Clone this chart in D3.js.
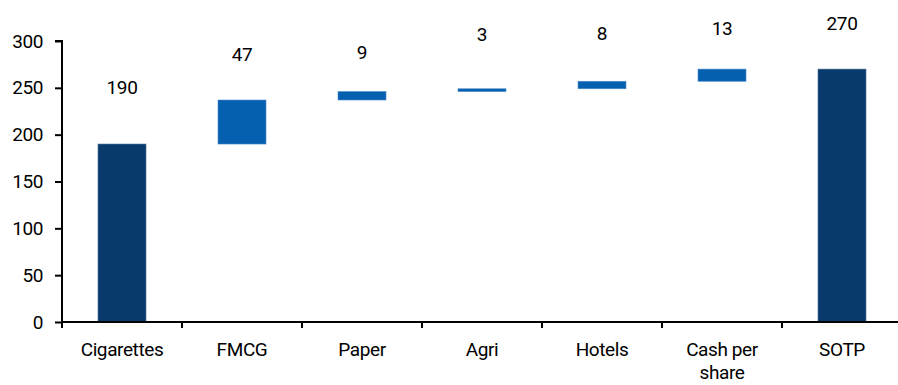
<!DOCTYPE html>
<html>
<head>
<meta charset="utf-8">
<script src="https://cdn.jsdelivr.net/npm/d3@7"></script>
<style>
  body { margin: 0; background: #fff; }
  text { font-family: "Liberation Sans Narrow", "Arial Narrow", Roboto, sans-serif; fill: #000; letter-spacing: -0.4px; }
</style>
</head>
<body>
<div id="chart"></div>
<script>
// waterfall data
var categories = ['Cigarettes', 'FMCG', 'Paper', 'Agri', 'Hotels', 'Cash per share', 'SOTP']
var values = [190, 47, 9, 3, 8, 13, 270]
var isTotal = [true, false, false, false, false, false, true]
// where the value labels sit (in chart units)
var labelPos = [250, 286, 288, 307, 308, 314, 319]
var yTicks = [0, 50, 100, 150, 200, 250, 300]

var W = 898, H = 385
var mLeft = 62, mRight = 902, mTop = 41, mBottom = 322

// running start / end for each bar
var run = 0
var bars = categories.map(function (c, i) {
  var b
  if (isTotal[i]) { b = { c: c, lo: 0, hi: values[i] }; run = values[i] }
  else { b = { c: c, lo: run, hi: run + values[i] }; run += values[i] }
  b.v = values[i]; b.total = isTotal[i]; b.lp = labelPos[i]
  return b
})

var svg = d3.select('#chart').append('svg')
  .attr('width', W)
  .attr('height', H)

var x = d3.scaleBand().domain(categories).range([mLeft, mRight]).paddingInner(0.6).paddingOuter(0.3)
var y = d3.scaleLinear().domain([0, 300]).range([mBottom, mTop])

// bars
svg.selectAll('rect.bar')
  .data(bars)
  .enter().append('rect')
    .attr('class', 'bar')
    .attr('x', d => x(d.c))
    .attr('width', x.bandwidth())
    .attr('y', d => y(d.hi))
    .attr('height', d => y(d.lo) - y(d.hi))
    .attr('fill', d => d.total ? '#083a6b' : '#0660b0')
    .attr('stroke', d => d.total ? '#4a6f96' : '#4f8cc8')
    .attr('stroke-width', 0.6)

// value labels
svg.selectAll('text.val')
  .data(bars)
  .enter().append('text')
    .attr('class', 'val')
    .attr('x', d => x(d.c) + x.bandwidth() / 2)
    .attr('y', d => y(d.lp))
    .attr('dy', '0.35em')
    .attr('text-anchor', 'middle')
    .style('font-size', '19px')
    .text(d => d.v)

// y axis
var yAxis = svg.append('g')
  .attr('transform', 'translate(' + mLeft + ',0)')
  .call(d3.axisLeft(y).tickValues(yTicks).tickSize(7).tickPadding(12))
yAxis.select('.domain').attr('stroke', '#000').attr('stroke-width', 2).attr('d', 'M-7,' + y(300) + 'H0V' + mBottom)
yAxis.selectAll('.tick line').attr('stroke', '#000').attr('stroke-width', 2)
yAxis.selectAll('.tick text').style('font-size', '19px')
yAxis.attr('font-family', null).attr('font-size', null)

// x axis: line and boundary ticks
var step = x.step()
var bounds = d3.range(categories.length + 1).map(i => mLeft + i * step)
svg.append('line')
  .attr('x1', mLeft).attr('x2', W)
  .attr('y1', mBottom).attr('y2', mBottom)
  .attr('stroke', '#000').attr('stroke-width', 2)
svg.selectAll('line.xt')
  .data(bounds)
  .enter().append('line')
    .attr('class', 'xt')
    .attr('x1', d => d).attr('x2', d => d)
    .attr('y1', mBottom).attr('y2', mBottom + 6)
    .attr('stroke', '#000').attr('stroke-width', 2)

// category labels (wrap "Cash per share")
var xl = svg.selectAll('text.cat')
  .data(categories)
  .enter().append('text')
    .attr('class', 'cat')
    .attr('text-anchor', 'middle')
    .attr('x', d => x(d) + x.bandwidth() / 2)
    .attr('y', 356)
    .style('font-size', '19px')
xl.each(function (d) {
  var lines = d === 'Cash per share' ? ['Cash per', 'share'] : [d]
  var t = d3.select(this)
  lines.forEach(function (l, i) {
    t.append('tspan').attr('x', x(d) + x.bandwidth() / 2).attr('dy', i ? 23 : 0).text(l)
  })
})
</script>
</body>
</html>
